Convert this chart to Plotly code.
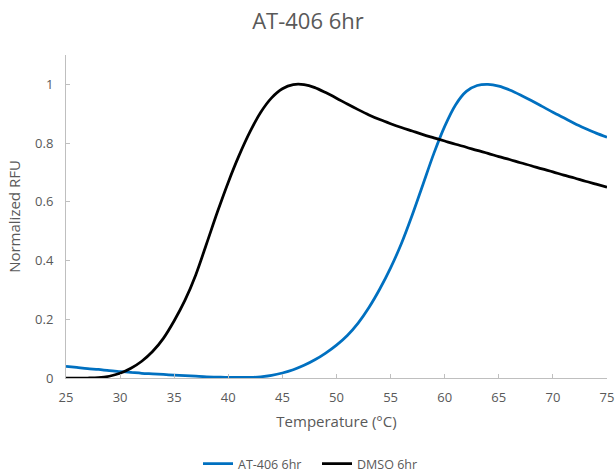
import plotly.graph_objects as go

# Melt curve data: normalized fluorescence vs temperature
temperature = list(range(25, 76))

at406_6hr = [
    0.040, 0.036, 0.032, 0.029, 0.025, 0.022, 0.019, 0.016, 0.014, 0.012,
    0.010, 0.008, 0.006, 0.004, 0.003, 0.002, 0.002, 0.002, 0.004, 0.009,
    0.017, 0.028, 0.043, 0.062, 0.085, 0.112, 0.145, 0.187, 0.240, 0.303,
    0.375, 0.458, 0.555, 0.660, 0.765, 0.857, 0.930, 0.976, 0.996, 1.000,
    0.994, 0.981, 0.964, 0.945, 0.925, 0.905, 0.886, 0.867, 0.850, 0.834,
    0.820,
]

dmso_6hr = [
    0.000, 0.000, 0.000, 0.001, 0.006, 0.016, 0.033, 0.057, 0.090, 0.135,
    0.195, 0.265, 0.352, 0.458, 0.566, 0.667, 0.758, 0.838, 0.905, 0.954,
    0.985, 0.999, 0.999, 0.989, 0.972, 0.953, 0.933, 0.914, 0.896, 0.880,
    0.866, 0.853, 0.841, 0.829, 0.818, 0.807, 0.796, 0.786, 0.775, 0.765,
    0.754, 0.744, 0.733, 0.723, 0.712, 0.702, 0.691, 0.681, 0.670, 0.660,
    0.650,
]

x_ticks = [25, 30, 35, 40, 45, 50, 55, 60, 65, 70, 75]
y_ticks = [0, 0.2, 0.4, 0.6, 0.8, 1]
y_tick_text = ["0", "0.2", "0.4", "0.6", "0.8", "1"]

FONT = "Open Sans, sans-serif"
GREY_TEXT = "#595959"
AXIS_GREY = "#BFBFBF"

fig = go.Figure()
fig.add_trace(go.Scatter(
    x=temperature, y=at406_6hr, name="AT-406 6hr", mode="lines", legend="legend",
    line=dict(color="#0070C0", width=2.75, shape="spline", smoothing=0.9),
))
fig.add_trace(go.Scatter(
    x=temperature, y=dmso_6hr, name="DMSO 6hr", mode="lines", legend="legend2",
    line=dict(color="#000000", width=2.75, shape="spline", smoothing=0.9),
))

PLOT_L, PLOT_W, PLOT_B, PLOT_H = 66, 541, 378, 323
legend_style = dict(orientation="h", xanchor="left", yanchor="middle",
                    y=(PLOT_B - 464) / PLOT_H,
                    font=dict(family=FONT, size=12.5, color=GREY_TEXT),
                    itemwidth=30, bgcolor="rgba(0,0,0,0)")

fig.update_layout(
    width=616, height=476,
    margin=dict(l=66, r=9, t=55, b=98, autoexpand=False),
    paper_bgcolor="white", plot_bgcolor="white",
    font=dict(family=FONT, color=GREY_TEXT, size=13),
    title=dict(text="AT-406 6hr", x=0.5, xanchor="center", xref="container",
               y=1 - 21 / 476, yanchor="middle",
               font=dict(family=FONT, size=22, color=GREY_TEXT)),
    showlegend=True,
    legend=dict(x=(198 - PLOT_L) / PLOT_W, **legend_style),
    legend2=dict(x=(317 - PLOT_L) / PLOT_W, **legend_style),
    xaxis=dict(
        range=[25, 75], tickvals=x_ticks, ticktext=[str(v) for v in x_ticks],
        automargin=False,
        showgrid=False, zeroline=False, showline=True, linecolor=AXIS_GREY, linewidth=1,
        ticks="inside", ticklen=4, tickcolor=AXIS_GREY, ticklabelstandoff=7,
        tickfont=dict(family=FONT, size=13, color=GREY_TEXT),
        title=dict(text="Temperature (°C)", standoff=11,
                   font=dict(family=FONT, size=15, color=GREY_TEXT)),
    ),
    yaxis=dict(
        range=[0, 1.1], tickvals=y_ticks, ticktext=y_tick_text,
        automargin=False,
        showgrid=False, zeroline=False, showline=True, linecolor=AXIS_GREY, linewidth=1,
        ticks="inside", ticklen=4, tickcolor=AXIS_GREY, ticklabelstandoff=9,
        tickfont=dict(family=FONT, size=13, color=GREY_TEXT),
        title=dict(text="Normalized RFU", standoff=10,
                   font=dict(family=FONT, size=15, color=GREY_TEXT)),
    ),
)

fig.write_html("out.html")
